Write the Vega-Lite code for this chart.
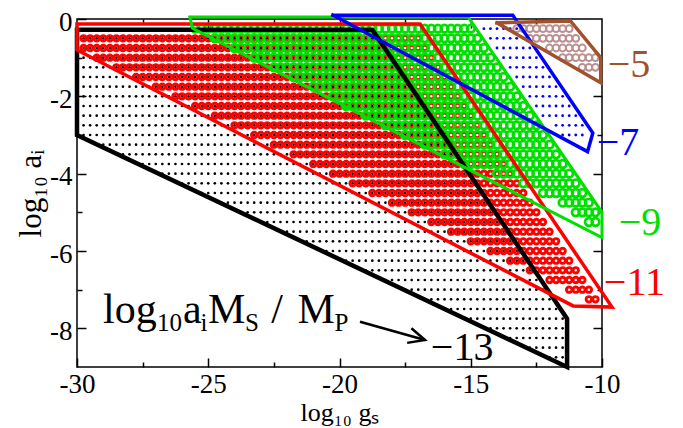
{
"$schema": "https://vega.github.io/schema/vega-lite/v6.json",
"width": 525, "height": 348,
"autosize": "none",
"padding": {"left": 77, "top": 19, "right": 81, "bottom": 61},
"background": "white",
"config": {
  "view": {"stroke": "black", "strokeWidth": 1.5},
  "font": "Liberation Serif",
  "axis": {"labelFont": "Liberation Serif", "titleFont": "Liberation Serif", "labelFontSize": 27, "titleFontSize": 26, "titleFontWeight": "normal", "labelColor": "black", "titleColor": "black", "tickColor": "black", "tickWidth": 1.5, "domain": false, "grid": false, "labelOverlap": false, "labelFlush": false}
},
"datasets": {
"dots": [
{"c":"k","y":-0.5,"x":[-29.75,-29.5,-29.25,-29,-28.75,-28.5,-28.25,-28,-27.75,-27.5,-27.25,-27,-26.75,-26.5,-26.25,-26,-25.75,-25.5,-25.25,-25,-24.75,-24.5,-24.25,-24,-23.75,-23.5,-23.25,-23,-22.75,-22.5,-22.25,-22,-21.75,-21.5,-21.25,-21,-20.75,-20.5,-20.25,-20,-19.75,-19.5,-19.25,-19,-18.75]},
{"c":"k","y":-0.75,"x":[-29.75,-29.5,-29.25,-29,-28.75,-28.5,-28.25,-28,-27.75,-27.5,-27.25,-27,-26.75,-26.5,-26.25,-26,-25.75,-25.5,-25.25,-25,-24.75,-24.5,-24.25,-24,-23.75,-23.5,-23.25,-23,-22.75,-22.5,-22.25,-22,-21.75,-21.5,-21.25,-21,-20.75,-20.5,-20.25,-20,-19.75,-19.5,-19.25,-19,-18.75,-18.5]},
{"c":"k","y":-1,"x":[-29.75,-29.5,-29.25,-29,-28.75,-28.5,-28.25,-28,-27.75,-27.5,-27.25,-27,-26.75,-26.5,-26.25,-26,-25.75,-25.5,-25.25,-25,-24.75,-24.5,-24.25,-24,-23.75,-23.5,-23.25,-23,-22.75,-22.5,-22.25,-22,-21.75,-21.5,-21.25,-21,-20.75,-20.5,-20.25,-20,-19.75,-19.5,-19.25,-19,-18.75,-18.5,-18.25]},
{"c":"k","y":-1.25,"x":[-29.75,-29.5,-29.25,-29,-28.75,-28.5,-28.25,-28,-27.75,-27.5,-27.25,-27,-26.75,-26.5,-26.25,-26,-25.75,-25.5,-25.25,-25,-24.75,-24.5,-24.25,-24,-23.75,-23.5,-23.25,-23,-22.75,-22.5,-22.25,-22,-21.75,-21.5,-21.25,-21,-20.75,-20.5,-20.25,-20,-19.75,-19.5,-19.25,-19,-18.75,-18.5,-18.25,-18]},
{"c":"k","y":-1.5,"x":[-29.75,-29.5,-29.25,-29,-28.75,-28.5,-28.25,-28,-27.75,-27.5,-27.25,-27,-26.75,-26.5,-26.25,-26,-25.75,-25.5,-25.25,-25,-24.75,-24.5,-24.25,-24,-23.75,-23.5,-23.25,-23,-22.75,-22.5,-22.25,-22,-21.75,-21.5,-21.25,-21,-20.75,-20.5,-20.25,-20,-19.75,-19.5,-19.25,-19,-18.75,-18.5,-18.25,-18,-17.75]},
{"c":"k","y":-1.75,"x":[-29.75,-29.5,-29.25,-29,-28.75,-28.5,-28.25,-28,-27.75,-27.5,-27.25,-27,-26.75,-26.5,-26.25,-26,-25.75,-25.5,-25.25,-25,-24.75,-24.5,-24.25,-24,-23.75,-23.5,-23.25,-23,-22.75,-22.5,-22.25,-22,-21.75,-21.5,-21.25,-21,-20.75,-20.5,-20.25,-20,-19.75,-19.5,-19.25,-19,-18.75,-18.5,-18.25,-18,-17.75,-17.5]},
{"c":"k","y":-2,"x":[-29.75,-29.5,-29.25,-29,-28.75,-28.5,-28.25,-28,-27.75,-27.5,-27.25,-27,-26.75,-26.5,-26.25,-26,-25.75,-25.5,-25.25,-25,-24.75,-24.5,-24.25,-24,-23.75,-23.5,-23.25,-23,-22.75,-22.5,-22.25,-22,-21.75,-21.5,-21.25,-21,-20.75,-20.5,-20.25,-20,-19.75,-19.5,-19.25,-19,-18.75,-18.5,-18.25,-18,-17.75,-17.5,-17.25]},
{"c":"k","y":-2.25,"x":[-29.75,-29.5,-29.25,-29,-28.75,-28.5,-28.25,-28,-27.75,-27.5,-27.25,-27,-26.75,-26.5,-26.25,-26,-25.75,-25.5,-25.25,-25,-24.75,-24.5,-24.25,-24,-23.75,-23.5,-23.25,-23,-22.75,-22.5,-22.25,-22,-21.75,-21.5,-21.25,-21,-20.75,-20.5,-20.25,-20,-19.75,-19.5,-19.25,-19,-18.75,-18.5,-18.25,-18,-17.75,-17.5,-17.25,-17]},
{"c":"k","y":-2.5,"x":[-29.75,-29.5,-29.25,-29,-28.75,-28.5,-28.25,-28,-27.75,-27.5,-27.25,-27,-26.75,-26.5,-26.25,-26,-25.75,-25.5,-25.25,-25,-24.75,-24.5,-24.25,-24,-23.75,-23.5,-23.25,-23,-22.75,-22.5,-22.25,-22,-21.75,-21.5,-21.25,-21,-20.75,-20.5,-20.25,-20,-19.75,-19.5,-19.25,-19,-18.75,-18.5,-18.25,-18,-17.75,-17.5,-17.25,-17,-16.75]},
{"c":"k","y":-2.75,"x":[-29.75,-29.5,-29.25,-29,-28.75,-28.5,-28.25,-28,-27.75,-27.5,-27.25,-27,-26.75,-26.5,-26.25,-26,-25.75,-25.5,-25.25,-25,-24.75,-24.5,-24.25,-24,-23.75,-23.5,-23.25,-23,-22.75,-22.5,-22.25,-22,-21.75,-21.5,-21.25,-21,-20.75,-20.5,-20.25,-20,-19.75,-19.5,-19.25,-19,-18.75,-18.5,-18.25,-18,-17.75,-17.5,-17.25,-17,-16.75,-16.5]},
{"c":"k","y":-3,"x":[-29.75,-29.5,-29.25,-29,-28.75,-28.5,-28.25,-28,-27.75,-27.5,-27.25,-27,-26.75,-26.5,-26.25,-26,-25.75,-25.5,-25.25,-25,-24.75,-24.5,-24.25,-24,-23.75,-23.5,-23.25,-23,-22.75,-22.5,-22.25,-22,-21.75,-21.5,-21.25,-21,-20.75,-20.5,-20.25,-20,-19.75,-19.5,-19.25,-19,-18.75,-18.5,-18.25,-18,-17.75,-17.5,-17.25,-17,-16.75,-16.5,-16.25]},
{"c":"k","y":-3.25,"x":[-29,-28.75,-28.5,-28.25,-28,-27.75,-27.5,-27.25,-27,-26.75,-26.5,-26.25,-26,-25.75,-25.5,-25.25,-25,-24.75,-24.5,-24.25,-24,-23.75,-23.5,-23.25,-23,-22.75,-22.5,-22.25,-22,-21.75,-21.5,-21.25,-21,-20.75,-20.5,-20.25,-20,-19.75,-19.5,-19.25,-19,-18.75,-18.5,-18.25,-18,-17.75,-17.5,-17.25,-17,-16.75,-16.5,-16.25,-16]},
{"c":"k","y":-3.5,"x":[-28.25,-28,-27.75,-27.5,-27.25,-27,-26.75,-26.5,-26.25,-26,-25.75,-25.5,-25.25,-25,-24.75,-24.5,-24.25,-24,-23.75,-23.5,-23.25,-23,-22.75,-22.5,-22.25,-22,-21.75,-21.5,-21.25,-21,-20.75,-20.5,-20.25,-20,-19.75,-19.5,-19.25,-19,-18.75,-18.5,-18.25,-18,-17.75,-17.5,-17.25,-17,-16.75,-16.5,-16.25,-16,-15.75]},
{"c":"k","y":-3.75,"x":[-27.5,-27.25,-27,-26.75,-26.5,-26.25,-26,-25.75,-25.5,-25.25,-25,-24.75,-24.5,-24.25,-24,-23.75,-23.5,-23.25,-23,-22.75,-22.5,-22.25,-22,-21.75,-21.5,-21.25,-21,-20.75,-20.5,-20.25,-20,-19.75,-19.5,-19.25,-19,-18.75,-18.5,-18.25,-18,-17.75,-17.5,-17.25,-17,-16.75,-16.5,-16.25,-16,-15.75,-15.5]},
{"c":"k","y":-4,"x":[-26.75,-26.5,-26.25,-26,-25.75,-25.5,-25.25,-25,-24.75,-24.5,-24.25,-24,-23.75,-23.5,-23.25,-23,-22.75,-22.5,-22.25,-22,-21.75,-21.5,-21.25,-21,-20.75,-20.5,-20.25,-20,-19.75,-19.5,-19.25,-19,-18.75,-18.5,-18.25,-18,-17.75,-17.5,-17.25,-17,-16.75,-16.5,-16.25,-16,-15.75,-15.5,-15.25]},
{"c":"k","y":-4.25,"x":[-26,-25.75,-25.5,-25.25,-25,-24.75,-24.5,-24.25,-24,-23.75,-23.5,-23.25,-23,-22.75,-22.5,-22.25,-22,-21.75,-21.5,-21.25,-21,-20.75,-20.5,-20.25,-20,-19.75,-19.5,-19.25,-19,-18.75,-18.5,-18.25,-18,-17.75,-17.5,-17.25,-17,-16.75,-16.5,-16.25,-16,-15.75,-15.5,-15.25,-15]},
{"c":"k","y":-4.5,"x":[-25.25,-25,-24.75,-24.5,-24.25,-24,-23.75,-23.5,-23.25,-23,-22.75,-22.5,-22.25,-22,-21.75,-21.5,-21.25,-21,-20.75,-20.5,-20.25,-20,-19.75,-19.5,-19.25,-19,-18.75,-18.5,-18.25,-18,-17.75,-17.5,-17.25,-17,-16.75,-16.5,-16.25,-16,-15.75,-15.5,-15.25,-15,-14.75]},
{"c":"k","y":-4.75,"x":[-24.5,-24.25,-24,-23.75,-23.5,-23.25,-23,-22.75,-22.5,-22.25,-22,-21.75,-21.5,-21.25,-21,-20.75,-20.5,-20.25,-20,-19.75,-19.5,-19.25,-19,-18.75,-18.5,-18.25,-18,-17.75,-17.5,-17.25,-17,-16.75,-16.5,-16.25,-16,-15.75,-15.5,-15.25,-15,-14.75,-14.5]},
{"c":"k","y":-5,"x":[-23.5,-23.25,-23,-22.75,-22.5,-22.25,-22,-21.75,-21.5,-21.25,-21,-20.75,-20.5,-20.25,-20,-19.75,-19.5,-19.25,-19,-18.75,-18.5,-18.25,-18,-17.75,-17.5,-17.25,-17,-16.75,-16.5,-16.25,-16,-15.75,-15.5,-15.25,-15,-14.75,-14.5,-14.25]},
{"c":"k","y":-5.25,"x":[-22.75,-22.5,-22.25,-22,-21.75,-21.5,-21.25,-21,-20.75,-20.5,-20.25,-20,-19.75,-19.5,-19.25,-19,-18.75,-18.5,-18.25,-18,-17.75,-17.5,-17.25,-17,-16.75,-16.5,-16.25,-16,-15.75,-15.5,-15.25,-15,-14.75,-14.5,-14.25,-14]},
{"c":"k","y":-5.5,"x":[-22,-21.75,-21.5,-21.25,-21,-20.75,-20.5,-20.25,-20,-19.75,-19.5,-19.25,-19,-18.75,-18.5,-18.25,-18,-17.75,-17.5,-17.25,-17,-16.75,-16.5,-16.25,-16,-15.75,-15.5,-15.25,-15,-14.75,-14.5,-14.25,-14,-13.75]},
{"c":"k","y":-5.75,"x":[-21.25,-21,-20.75,-20.5,-20.25,-20,-19.75,-19.5,-19.25,-19,-18.75,-18.5,-18.25,-18,-17.75,-17.5,-17.25,-17,-16.75,-16.5,-16.25,-16,-15.75,-15.5,-15.25,-15,-14.75,-14.5,-14.25,-14,-13.75,-13.5]},
{"c":"k","y":-6,"x":[-20.5,-20.25,-20,-19.75,-19.5,-19.25,-19,-18.75,-18.5,-18.25,-18,-17.75,-17.5,-17.25,-17,-16.75,-16.5,-16.25,-16,-15.75,-15.5,-15.25,-15,-14.75,-14.5,-14.25,-14,-13.75,-13.5,-13.25]},
{"c":"k","y":-6.25,"x":[-19.75,-19.5,-19.25,-19,-18.75,-18.5,-18.25,-18,-17.75,-17.5,-17.25,-17,-16.75,-16.5,-16.25,-16,-15.75,-15.5,-15.25,-15,-14.75,-14.5,-14.25,-14,-13.75,-13.5,-13.25,-13]},
{"c":"k","y":-6.5,"x":[-19,-18.75,-18.5,-18.25,-18,-17.75,-17.5,-17.25,-17,-16.75,-16.5,-16.25,-16,-15.75,-15.5,-15.25,-15,-14.75,-14.5,-14.25,-14,-13.75,-13.5,-13.25,-13,-12.75]},
{"c":"k","y":-6.75,"x":[-18.25,-18,-17.75,-17.5,-17.25,-17,-16.75,-16.5,-16.25,-16,-15.75,-15.5,-15.25,-15,-14.75,-14.5,-14.25,-14,-13.75,-13.5,-13.25,-13,-12.75,-12.5]},
{"c":"k","y":-7,"x":[-17.5,-17.25,-17,-16.75,-16.5,-16.25,-16,-15.75,-15.5,-15.25,-15,-14.75,-14.5,-14.25,-14,-13.75,-13.5,-13.25,-13,-12.75,-12.5,-12.25]},
{"c":"k","y":-7.25,"x":[-16.5,-16.25,-16,-15.75,-15.5,-15.25,-15,-14.75,-14.5,-14.25,-14,-13.75,-13.5,-13.25,-13,-12.75,-12.5,-12.25,-12]},
{"c":"k","y":-7.5,"x":[-15.75,-15.5,-15.25,-15,-14.75,-14.5,-14.25,-14,-13.75,-13.5,-13.25,-13,-12.75,-12.5,-12.25,-12,-11.75]},
{"c":"k","y":-7.75,"x":[-15,-14.75,-14.5,-14.25,-14,-13.75,-13.5,-13.25,-13,-12.75,-12.5,-12.25,-12,-11.75,-11.5]},
{"c":"k","y":-8,"x":[-14.25,-14,-13.75,-13.5,-13.25,-13,-12.75,-12.5,-12.25,-12,-11.75,-11.5]},
{"c":"k","y":-8.25,"x":[-13.5,-13.25,-13,-12.75,-12.5,-12.25,-12,-11.75,-11.5]},
{"c":"k","y":-8.5,"x":[-12.75,-12.5,-12.25,-12,-11.75,-11.5]},
{"c":"k","y":-8.75,"x":[-12,-11.75,-11.5]},
{"c":"r","y":-0.5,"x":[-29.75,-29.5,-29.25,-29,-28.75,-28.5,-28.25,-28,-27.75,-27.5,-27.25,-27,-26.75,-26.5,-26.25,-26,-25.75,-25.5,-25.25,-25,-24.75,-24.5,-24.25,-24,-23.75,-23.5,-23.25,-23,-22.75,-22.5,-22.25,-22,-21.75,-21.5,-21.25,-21,-20.75,-20.5,-20.25,-20,-19.75,-19.5,-19.25,-19,-18.75,-18.5,-18.25,-18,-17.75,-17.5,-17.25,-17]},
{"c":"r","y":-0.75,"x":[-29.75,-29.5,-29.25,-29,-28.75,-28.5,-28.25,-28,-27.75,-27.5,-27.25,-27,-26.75,-26.5,-26.25,-26,-25.75,-25.5,-25.25,-25,-24.75,-24.5,-24.25,-24,-23.75,-23.5,-23.25,-23,-22.75,-22.5,-22.25,-22,-21.75,-21.5,-21.25,-21,-20.75,-20.5,-20.25,-20,-19.75,-19.5,-19.25,-19,-18.75,-18.5,-18.25,-18,-17.75,-17.5,-17.25,-17,-16.75]},
{"c":"r","y":-1,"x":[-29.25,-29,-28.75,-28.5,-28.25,-28,-27.75,-27.5,-27.25,-27,-26.75,-26.5,-26.25,-26,-25.75,-25.5,-25.25,-25,-24.75,-24.5,-24.25,-24,-23.75,-23.5,-23.25,-23,-22.75,-22.5,-22.25,-22,-21.75,-21.5,-21.25,-21,-20.75,-20.5,-20.25,-20,-19.75,-19.5,-19.25,-19,-18.75,-18.5,-18.25,-18,-17.75,-17.5,-17.25,-17,-16.75,-16.5]},
{"c":"r","y":-1.25,"x":[-28.5,-28.25,-28,-27.75,-27.5,-27.25,-27,-26.75,-26.5,-26.25,-26,-25.75,-25.5,-25.25,-25,-24.75,-24.5,-24.25,-24,-23.75,-23.5,-23.25,-23,-22.75,-22.5,-22.25,-22,-21.75,-21.5,-21.25,-21,-20.75,-20.5,-20.25,-20,-19.75,-19.5,-19.25,-19,-18.75,-18.5,-18.25,-18,-17.75,-17.5,-17.25,-17,-16.75,-16.5,-16.25]},
{"c":"r","y":-1.5,"x":[-27.75,-27.5,-27.25,-27,-26.75,-26.5,-26.25,-26,-25.75,-25.5,-25.25,-25,-24.75,-24.5,-24.25,-24,-23.75,-23.5,-23.25,-23,-22.75,-22.5,-22.25,-22,-21.75,-21.5,-21.25,-21,-20.75,-20.5,-20.25,-20,-19.75,-19.5,-19.25,-19,-18.75,-18.5,-18.25,-18,-17.75,-17.5,-17.25,-17,-16.75,-16.5,-16.25,-16]},
{"c":"r","y":-1.75,"x":[-27,-26.75,-26.5,-26.25,-26,-25.75,-25.5,-25.25,-25,-24.75,-24.5,-24.25,-24,-23.75,-23.5,-23.25,-23,-22.75,-22.5,-22.25,-22,-21.75,-21.5,-21.25,-21,-20.75,-20.5,-20.25,-20,-19.75,-19.5,-19.25,-19,-18.75,-18.5,-18.25,-18,-17.75,-17.5,-17.25,-17,-16.75,-16.5,-16.25,-16,-15.75]},
{"c":"r","y":-2,"x":[-26.25,-26,-25.75,-25.5,-25.25,-25,-24.75,-24.5,-24.25,-24,-23.75,-23.5,-23.25,-23,-22.75,-22.5,-22.25,-22,-21.75,-21.5,-21.25,-21,-20.75,-20.5,-20.25,-20,-19.75,-19.5,-19.25,-19,-18.75,-18.5,-18.25,-18,-17.75,-17.5,-17.25,-17,-16.75,-16.5,-16.25,-16,-15.75,-15.5]},
{"c":"r","y":-2.25,"x":[-25.5,-25.25,-25,-24.75,-24.5,-24.25,-24,-23.75,-23.5,-23.25,-23,-22.75,-22.5,-22.25,-22,-21.75,-21.5,-21.25,-21,-20.75,-20.5,-20.25,-20,-19.75,-19.5,-19.25,-19,-18.75,-18.5,-18.25,-18,-17.75,-17.5,-17.25,-17,-16.75,-16.5,-16.25,-16,-15.75,-15.5,-15.25]},
{"c":"r","y":-2.5,"x":[-24.75,-24.5,-24.25,-24,-23.75,-23.5,-23.25,-23,-22.75,-22.5,-22.25,-22,-21.75,-21.5,-21.25,-21,-20.75,-20.5,-20.25,-20,-19.75,-19.5,-19.25,-19,-18.75,-18.5,-18.25,-18,-17.75,-17.5,-17.25,-17,-16.75,-16.5,-16.25,-16,-15.75,-15.5,-15.25,-15]},
{"c":"r","y":-2.75,"x":[-24,-23.75,-23.5,-23.25,-23,-22.75,-22.5,-22.25,-22,-21.75,-21.5,-21.25,-21,-20.75,-20.5,-20.25,-20,-19.75,-19.5,-19.25,-19,-18.75,-18.5,-18.25,-18,-17.75,-17.5,-17.25,-17,-16.75,-16.5,-16.25,-16,-15.75,-15.5,-15.25,-15,-14.75]},
{"c":"r","y":-3,"x":[-23.25,-23,-22.75,-22.5,-22.25,-22,-21.75,-21.5,-21.25,-21,-20.75,-20.5,-20.25,-20,-19.75,-19.5,-19.25,-19,-18.75,-18.5,-18.25,-18,-17.75,-17.5,-17.25,-17,-16.75,-16.5,-16.25,-16,-15.75,-15.5,-15.25,-15,-14.75,-14.5]},
{"c":"r","y":-3.25,"x":[-22.5,-22.25,-22,-21.75,-21.5,-21.25,-21,-20.75,-20.5,-20.25,-20,-19.75,-19.5,-19.25,-19,-18.75,-18.5,-18.25,-18,-17.75,-17.5,-17.25,-17,-16.75,-16.5,-16.25,-16,-15.75,-15.5,-15.25,-15,-14.75,-14.5,-14.25]},
{"c":"r","y":-3.5,"x":[-21.75,-21.5,-21.25,-21,-20.75,-20.5,-20.25,-20,-19.75,-19.5,-19.25,-19,-18.75,-18.5,-18.25,-18,-17.75,-17.5,-17.25,-17,-16.75,-16.5,-16.25,-16,-15.75,-15.5,-15.25,-15,-14.75,-14.5,-14.25,-14]},
{"c":"r","y":-3.75,"x":[-21,-20.75,-20.5,-20.25,-20,-19.75,-19.5,-19.25,-19,-18.75,-18.5,-18.25,-18,-17.75,-17.5,-17.25,-17,-16.75,-16.5,-16.25,-16,-15.75,-15.5,-15.25,-15,-14.75,-14.5,-14.25,-14,-13.75]},
{"c":"r","y":-4,"x":[-20.25,-20,-19.75,-19.5,-19.25,-19,-18.75,-18.5,-18.25,-18,-17.75,-17.5,-17.25,-17,-16.75,-16.5,-16.25,-16,-15.75,-15.5,-15.25,-15,-14.75,-14.5,-14.25,-14,-13.75,-13.5]},
{"c":"r","y":-4.25,"x":[-19.5,-19.25,-19,-18.75,-18.5,-18.25,-18,-17.75,-17.5,-17.25,-17,-16.75,-16.5,-16.25,-16,-15.75,-15.5,-15.25,-15,-14.75,-14.5,-14.25,-14,-13.75,-13.5,-13.25]},
{"c":"r","y":-4.5,"x":[-18.75,-18.5,-18.25,-18,-17.75,-17.5,-17.25,-17,-16.75,-16.5,-16.25,-16,-15.75,-15.5,-15.25,-15,-14.75,-14.5,-14.25,-14,-13.75,-13.5,-13.25,-13]},
{"c":"r","y":-4.75,"x":[-18,-17.75,-17.5,-17.25,-17,-16.75,-16.5,-16.25,-16,-15.75,-15.5,-15.25,-15,-14.75,-14.5,-14.25,-14,-13.75,-13.5,-13.25,-13,-12.75]},
{"c":"r","y":-5,"x":[-17.25,-17,-16.75,-16.5,-16.25,-16,-15.75,-15.5,-15.25,-15,-14.75,-14.5,-14.25,-14,-13.75,-13.5,-13.25,-13,-12.75,-12.5]},
{"c":"r","y":-5.25,"x":[-16.5,-16.25,-16,-15.75,-15.5,-15.25,-15,-14.75,-14.5,-14.25,-14,-13.75,-13.5,-13.25,-13,-12.75,-12.5,-12.25]},
{"c":"r","y":-5.5,"x":[-15.75,-15.5,-15.25,-15,-14.75,-14.5,-14.25,-14,-13.75,-13.5,-13.25,-13,-12.75,-12.5,-12.25,-12]},
{"c":"r","y":-5.75,"x":[-15,-14.75,-14.5,-14.25,-14,-13.75,-13.5,-13.25,-13,-12.75,-12.5,-12.25,-12,-11.75]},
{"c":"r","y":-6,"x":[-14.25,-14,-13.75,-13.5,-13.25,-13,-12.75,-12.5,-12.25,-12,-11.75,-11.5]},
{"c":"r","y":-6.25,"x":[-13.5,-13.25,-13,-12.75,-12.5,-12.25,-12,-11.75,-11.5,-11.25]},
{"c":"r","y":-6.5,"x":[-12.75,-12.5,-12.25,-12,-11.75,-11.5,-11.25,-11]},
{"c":"r","y":-6.75,"x":[-12,-11.75,-11.5,-11.25,-11,-10.75]},
{"c":"r","y":-7,"x":[-11.25,-11,-10.75,-10.5]},
{"c":"r","y":-7.25,"x":[-10.5,-10.25]},
{"c":"b","y":-0.25,"x":[-14.5,-14.25,-14,-13.75,-13.5,-13.25]},
{"c":"b","y":-0.5,"x":[-14.25,-14,-13.75,-13.5,-13.25,-13]},
{"c":"b","y":-0.75,"x":[-14,-13.75,-13.5,-13.25,-13,-12.75]},
{"c":"b","y":-1,"x":[-13.75,-13.5,-13.25,-13,-12.75,-12.5]},
{"c":"b","y":-1.25,"x":[-13.5,-13.25,-13,-12.75,-12.5,-12.25]},
{"c":"b","y":-1.5,"x":[-13.25,-13,-12.75,-12.5,-12.25,-12]},
{"c":"b","y":-1.75,"x":[-13,-12.75,-12.5,-12.25,-12,-11.75]},
{"c":"b","y":-2,"x":[-12.75,-12.5,-12.25,-12,-11.75,-11.5]},
{"c":"b","y":-2.25,"x":[-12.5,-12.25,-12,-11.75,-11.5,-11.25]},
{"c":"b","y":-2.5,"x":[-12.25,-12,-11.75,-11.5,-11.25,-11]},
{"c":"b","y":-2.75,"x":[-11.75,-11.5,-11.25,-11,-10.75]},
{"c":"b","y":-3,"x":[-11.5,-11.25,-11,-10.75]},
{"c":"g","y":-0.25,"x":[-25.5,-25.25,-25,-24.75,-24.5,-24.25,-24,-23.75,-23.5,-23.25,-23,-22.75,-22.5,-22.25,-22,-21.75,-21.5,-21.25,-21,-20.75,-20.5,-20.25,-20,-19.75,-19.5,-19.25,-19,-18.75,-18.5,-18.25,-18,-17.75,-17.5,-17.25,-17,-16.75,-16.5,-16.25,-16,-15.75,-15.5,-15.25,-15]},
{"c":"g","y":-0.5,"x":[-24.75,-24.5,-24.25,-24,-23.75,-23.5,-23.25,-23,-22.75,-22.5,-22.25,-22,-21.75,-21.5,-21.25,-21,-20.75,-20.5,-20.25,-20,-19.75,-19.5,-19.25,-19,-18.75,-18.5,-18.25,-18,-17.75,-17.5,-17.25,-17,-16.75,-16.5,-16.25,-16,-15.75,-15.5,-15.25,-15,-14.75]},
{"c":"g","y":-0.75,"x":[-24,-23.75,-23.5,-23.25,-23,-22.75,-22.5,-22.25,-22,-21.75,-21.5,-21.25,-21,-20.75,-20.5,-20.25,-20,-19.75,-19.5,-19.25,-19,-18.75,-18.5,-18.25,-18,-17.75,-17.5,-17.25,-17,-16.75,-16.5,-16.25,-16,-15.75,-15.5,-15.25,-15,-14.75,-14.5]},
{"c":"g","y":-1,"x":[-23.25,-23,-22.75,-22.5,-22.25,-22,-21.75,-21.5,-21.25,-21,-20.75,-20.5,-20.25,-20,-19.75,-19.5,-19.25,-19,-18.75,-18.5,-18.25,-18,-17.75,-17.5,-17.25,-17,-16.75,-16.5,-16.25,-16,-15.75,-15.5,-15.25,-15,-14.75,-14.5,-14.25]},
{"c":"g","y":-1.25,"x":[-22.5,-22.25,-22,-21.75,-21.5,-21.25,-21,-20.75,-20.5,-20.25,-20,-19.75,-19.5,-19.25,-19,-18.75,-18.5,-18.25,-18,-17.75,-17.5,-17.25,-17,-16.75,-16.5,-16.25,-16,-15.75,-15.5,-15.25,-15,-14.75,-14.5,-14.25,-14]},
{"c":"g","y":-1.5,"x":[-21.75,-21.5,-21.25,-21,-20.75,-20.5,-20.25,-20,-19.75,-19.5,-19.25,-19,-18.75,-18.5,-18.25,-18,-17.75,-17.5,-17.25,-17,-16.75,-16.5,-16.25,-16,-15.75,-15.5,-15.25,-15,-14.75,-14.5,-14.25,-14,-13.75]},
{"c":"g","y":-1.75,"x":[-21,-20.75,-20.5,-20.25,-20,-19.75,-19.5,-19.25,-19,-18.75,-18.5,-18.25,-18,-17.75,-17.5,-17.25,-17,-16.75,-16.5,-16.25,-16,-15.75,-15.5,-15.25,-15,-14.75,-14.5,-14.25,-14,-13.75,-13.5]},
{"c":"g","y":-2,"x":[-20.25,-20,-19.75,-19.5,-19.25,-19,-18.75,-18.5,-18.25,-18,-17.75,-17.5,-17.25,-17,-16.75,-16.5,-16.25,-16,-15.75,-15.5,-15.25,-15,-14.75,-14.5,-14.25,-14,-13.75,-13.5,-13.25]},
{"c":"g","y":-2.25,"x":[-19.75,-19.5,-19.25,-19,-18.75,-18.5,-18.25,-18,-17.75,-17.5,-17.25,-17,-16.75,-16.5,-16.25,-16,-15.75,-15.5,-15.25,-15,-14.75,-14.5,-14.25,-14,-13.75,-13.5,-13.25,-13]},
{"c":"g","y":-2.5,"x":[-19,-18.75,-18.5,-18.25,-18,-17.75,-17.5,-17.25,-17,-16.75,-16.5,-16.25,-16,-15.75,-15.5,-15.25,-15,-14.75,-14.5,-14.25,-14,-13.75,-13.5,-13.25,-13,-12.75]},
{"c":"g","y":-2.75,"x":[-18.25,-18,-17.75,-17.5,-17.25,-17,-16.75,-16.5,-16.25,-16,-15.75,-15.5,-15.25,-15,-14.75,-14.5,-14.25,-14,-13.75,-13.5,-13.25,-13,-12.75,-12.5]},
{"c":"g","y":-3,"x":[-17.5,-17.25,-17,-16.75,-16.5,-16.25,-16,-15.75,-15.5,-15.25,-15,-14.75,-14.5,-14.25,-14,-13.75,-13.5,-13.25,-13,-12.75,-12.5,-12.25]},
{"c":"g","y":-3.25,"x":[-16.75,-16.5,-16.25,-16,-15.75,-15.5,-15.25,-15,-14.75,-14.5,-14.25,-14,-13.75,-13.5,-13.25,-13,-12.75,-12.5,-12.25,-12]},
{"c":"g","y":-3.5,"x":[-16,-15.75,-15.5,-15.25,-15,-14.75,-14.5,-14.25,-14,-13.75,-13.5,-13.25,-13,-12.75,-12.5,-12.25,-12,-11.75]},
{"c":"g","y":-3.75,"x":[-15.25,-15,-14.75,-14.5,-14.25,-14,-13.75,-13.5,-13.25,-13,-12.75,-12.5,-12.25,-12,-11.75,-11.5]},
{"c":"g","y":-4,"x":[-14,-13.75,-13.5,-13.25,-13,-12.75,-12.5,-12.25,-12,-11.75,-11.5,-11.25]},
{"c":"g","y":-4.25,"x":[-13,-12.75,-12.5,-12.25,-12,-11.75,-11.5,-11.25,-11]},
{"c":"g","y":-4.5,"x":[-12.25,-12,-11.75,-11.5,-11.25,-11,-10.75]},
{"c":"g","y":-4.75,"x":[-11.5,-11.25,-11,-10.75,-10.5]},
{"c":"g","y":-5,"x":[-11,-10.75,-10.5,-10.25]},
{"c":"g","y":-5.25,"x":[-10.5,-10.25]},
{"c":"n","y":-0.25,"x":[-13.25,-13,-12.75,-12.5,-12.25,-12,-11.75,-11.5,-11.25]},
{"c":"n","y":-0.5,"x":[-12.75,-12.5,-12.25,-12,-11.75,-11.5,-11.25,-11]},
{"c":"n","y":-0.75,"x":[-12,-11.75,-11.5,-11.25,-11,-10.75]},
{"c":"n","y":-1,"x":[-11.5,-11.25,-11,-10.75,-10.5,-10.25]},
{"c":"n","y":-1.25,"x":[-10.75,-10.5,-10.25]}
],
"outlines": [
{"g":"-13","o":1,"x":-30,"y":-0.28},{"g":"-13","o":2,"x":-18.75,"y":-0.28},{"g":"-13","o":3,"x":-11.33,"y":-7.75},{"g":"-13","o":4,"x":-11.33,"y":-9},{"g":"-13","o":5,"x":-30,"y":-3.0},{"g":"-13","o":6,"x":-30,"y":-0.28},
{"g":"-11","o":1,"x":-30,"y":-0.13},{"g":"-11","o":2,"x":-16.93,"y":-0.13},{"g":"-11","o":3,"x":-9.62,"y":-7.45},{"g":"-11","o":4,"x":-11.1,"y":-7.42},{"g":"-11","o":5,"x":-30,"y":-0.8},{"g":"-11","o":6,"x":-30,"y":-0.13},
{"g":"-9","o":1,"x":-25.7,"y":0.05},{"g":"-9","o":2,"x":-15.1,"y":0.05},{"g":"-9","o":3,"x":-10.0,"y":-5.0},{"g":"-9","o":4,"x":-10.0,"y":-5.65},{"g":"-9","o":5,"x":-25.6,"y":-0.24},{"g":"-9","o":6,"x":-25.7,"y":0.05},
{"g":"-7","o":1,"x":-20.25,"y":0.1},{"g":"-7","o":2,"x":-13.4,"y":0.1},{"g":"-7","o":3,"x":-10.35,"y":-2.95},{"g":"-7","o":4,"x":-10.55,"y":-3.43},{"g":"-7","o":5,"x":-20.25,"y":0.1},
{"g":"-5","o":1,"x":-14.0,"y":-0.1},{"g":"-5","o":2,"x":-11.2,"y":-0.05},{"g":"-5","o":3,"x":-10.05,"y":-1.0},{"g":"-5","o":4,"x":-10.05,"y":-1.65},{"g":"-5","o":5,"x":-14.0,"y":-0.1}
],
"labels": [
{"g":"-5","t":"−5","x":-9.78,"y":-1.19},
{"g":"-7","t":"−7","x":-10.2,"y":-3.21},
{"g":"-9","t":"−9","x":-9.36,"y":-5.28},
{"g":"-11","t":"−11","x":-9.93,"y":-6.83},
{"g":"-13","t":"−13","x":-16.52,"y":-8.51}
],
"formula": [
{"r":"main","t":"log","x":-29.01,"y":-7.86},
{"r":"sub","t":"10","x":-26.952,"y":-8.07},
{"r":"main","t":"a","x":-25.962,"y":-7.86},
{"r":"sub","t":"i","x":-25.295,"y":-8.07},
{"r":"main","t":"M","x":-25.01,"y":-7.86},
{"r":"sub","t":"S","x":-23.6,"y":-8.07},
{"r":"main","t":"/","x":-22.6,"y":-7.86},
{"r":"main","t":"M","x":-21.6,"y":-7.86},
{"r":"sub","t":"P","x":-20.19,"y":-8.07}
],
"arrow": [
{"s":"shaft","o":1,"x":-19.219,"y":-7.828},{"s":"shaft","o":2,"x":-16.743,"y":-8.301},
{"s":"head","o":1,"x":-17.261,"y":-7.997},{"s":"head","o":2,"x":-16.743,"y":-8.301},{"s":"head","o":3,"x":-17.421,"y":-8.376}
]
},
"resolve": {"axis": {"x": "independent", "y": "independent"}},
"layer": [
{"data": {"name": "dots"}, "transform": [{"filter": "datum.c === 'k'"}, {"flatten": ["x"]}],
 "mark": {"type": "circle", "size": 7, "color": "black", "opacity": 1},
 "encoding": {
  "x": {"field": "x", "type": "quantitative", "scale": {"domain": [-30, -10], "nice": false, "zero": false}, "axis": {"orient": "bottom", "values": [-30, -25, -20, -15, -10], "tickSize": -9, "labelPadding": 13, "labelExpr": "'' + datum.value", "title": "log₁₀ gₛ", "titlePadding": 2}},
  "y": {"field": "y", "type": "quantitative", "scale": {"domain": [-9, 0], "nice": false, "zero": false}, "axis": {"orient": "left", "values": [0, -2, -4, -6, -8], "tickSize": -9, "labelPadding": 14, "labelOffset": 3, "labelExpr": "'' + datum.value", "title": "log₁₀ aᵢ", "titleFontSize": 31, "titlePadding": 2}}
 }},
{"data": {"name": "dots"}, "transform": [{"filter": "datum.c === 'r'"}, {"flatten": ["x"]}],
 "mark": {"type": "point", "shape": "circle", "filled": false, "size": 30, "strokeWidth": 2.9, "color": "#ff0000", "opacity": 1},
 "encoding": {
  "x": {"field": "x", "type": "quantitative", "scale": {"domain": [-30, -10], "nice": false, "zero": false}, "axis": {"orient": "bottom", "values": [-27.5, -22.5, -17.5, -12.5], "tickSize": -5, "labels": false, "title": null}},
  "y": {"field": "y", "type": "quantitative", "scale": {"domain": [-9, 0], "nice": false, "zero": false}, "axis": {"orient": "left", "values": [-1, -3, -5, -7], "tickSize": -5, "labels": false, "title": null}}
 }},
{"data": {"name": "dots"}, "transform": [{"filter": "datum.c === 'b'"}, {"flatten": ["x"]}],
 "mark": {"type": "circle", "size": 8, "color": "#0000ff", "opacity": 1},
 "encoding": {
  "x": {"field": "x", "type": "quantitative", "scale": {"domain": [-30, -10], "nice": false, "zero": false}, "axis": {"orient": "top", "values": [-27.5, -22.5, -17.5, -12.5], "tickSize": -5, "labels": false, "title": null}},
  "y": {"field": "y", "type": "quantitative", "scale": {"domain": [-9, 0], "nice": false, "zero": false}, "axis": {"orient": "right", "values": [-1, -3, -5, -7], "tickSize": -5, "labels": false, "title": null}}
 }},
{"data": {"name": "dots"}, "transform": [{"filter": "datum.c === 'g'"}, {"flatten": ["x"]}],
 "mark": {"type": "point", "shape": "circle", "filled": false, "size": 58, "strokeWidth": 2.7, "color": "#00e000", "opacity": 1},
 "encoding": {
  "x": {"field": "x", "type": "quantitative", "scale": {"domain": [-30, -10], "nice": false, "zero": false}, "axis": {"orient": "top", "values": [-25, -20, -15], "tickSize": -9, "labels": false, "title": null}},
  "y": {"field": "y", "type": "quantitative", "scale": {"domain": [-9, 0], "nice": false, "zero": false}, "axis": {"orient": "right", "values": [-2, -4, -6, -8], "tickSize": -9, "labels": false, "title": null}}
 }},
{"data": {"name": "dots"}, "transform": [{"filter": "datum.c === 'n'"}, {"flatten": ["x"]}],
 "mark": {"type": "point", "shape": "circle", "filled": false, "size": 46, "strokeWidth": 2, "color": "#bc8f8f", "opacity": 1},
 "encoding": {
  "x": {"field": "x", "type": "quantitative", "scale": {"domain": [-30, -10], "nice": false, "zero": false}, "axis": null},
  "y": {"field": "y", "type": "quantitative", "scale": {"domain": [-9, 0], "nice": false, "zero": false}, "axis": null}
 }},
{"data": {"name": "outlines"}, "transform": [{"filter": "datum.g === '-13'"}],
 "mark": {"type": "line", "color": "black", "strokeWidth": 4.5, "strokeJoin": "miter", "strokeCap": "square"},
 "encoding": {"x": {"field": "x", "type": "quantitative", "axis": null}, "y": {"field": "y", "type": "quantitative", "axis": null}, "order": {"field": "o"}}},
{"data": {"name": "outlines"}, "transform": [{"filter": "datum.g === '-11'"}],
 "mark": {"type": "line", "color": "#ff0000", "strokeWidth": 3.5, "strokeJoin": "miter", "strokeCap": "square"},
 "encoding": {"x": {"field": "x", "type": "quantitative", "axis": null}, "y": {"field": "y", "type": "quantitative", "axis": null}, "order": {"field": "o"}}},
{"data": {"name": "outlines"}, "transform": [{"filter": "datum.g === '-9'"}],
 "mark": {"type": "line", "color": "#00e000", "strokeWidth": 3, "strokeJoin": "miter", "strokeCap": "square"},
 "encoding": {"x": {"field": "x", "type": "quantitative", "axis": null}, "y": {"field": "y", "type": "quantitative", "axis": null}, "order": {"field": "o"}}},
{"data": {"name": "outlines"}, "transform": [{"filter": "datum.g === '-7'"}],
 "mark": {"type": "line", "color": "#0000ff", "strokeWidth": 3.5, "strokeJoin": "miter", "strokeCap": "square"},
 "encoding": {"x": {"field": "x", "type": "quantitative", "axis": null}, "y": {"field": "y", "type": "quantitative", "axis": null}, "order": {"field": "o"}}},
{"data": {"name": "outlines"}, "transform": [{"filter": "datum.g === '-5'"}],
 "mark": {"type": "line", "color": "#a0522d", "strokeWidth": 3.5, "strokeJoin": "miter", "strokeCap": "square"},
 "encoding": {"x": {"field": "x", "type": "quantitative", "axis": null}, "y": {"field": "y", "type": "quantitative", "axis": null}, "order": {"field": "o"}}},
{"data": {"name": "arrow"},
 "mark": {"type": "line", "color": "black", "strokeWidth": 2.5, "strokeJoin": "miter"},
 "encoding": {"x": {"field": "x", "type": "quantitative", "axis": null}, "y": {"field": "y", "type": "quantitative", "axis": null}, "detail": {"field": "s"}, "order": {"field": "o"}}},
{"data": {"name": "labels"},
 "mark": {"type": "text", "font": "Liberation Serif", "fontSize": 40, "align": "left", "baseline": "middle"},
 "encoding": {"x": {"field": "x", "type": "quantitative", "axis": null}, "y": {"field": "y", "type": "quantitative", "axis": null}, "text": {"field": "t"},
  "color": {"field": "g", "type": "nominal", "scale": {"domain": ["-5", "-7", "-9", "-11", "-13"], "range": ["#a0522d", "#0000ff", "#00e000", "#ff0000", "#000000"]}, "legend": null}}},
{"data": {"name": "formula"}, "transform": [{"filter": "datum.r === 'main'"}],
 "mark": {"type": "text", "font": "Liberation Serif", "fontSize": 42, "align": "left", "baseline": "alphabetic", "color": "black"},
 "encoding": {"x": {"field": "x", "type": "quantitative", "axis": null}, "y": {"field": "y", "type": "quantitative", "axis": null}, "text": {"field": "t"}}},
{"data": {"name": "formula"}, "transform": [{"filter": "datum.r === 'sub'"}],
 "mark": {"type": "text", "font": "Liberation Serif", "fontSize": 25, "align": "left", "baseline": "alphabetic", "color": "black"},
 "encoding": {"x": {"field": "x", "type": "quantitative", "axis": null}, "y": {"field": "y", "type": "quantitative", "axis": null}, "text": {"field": "t"}}}
]
}
